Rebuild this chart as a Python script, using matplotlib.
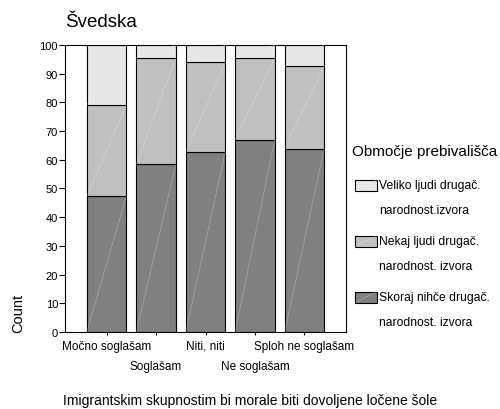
import numpy as np
import matplotlib
matplotlib.use('Agg')
import matplotlib.pyplot as plt
from matplotlib.patches import Rectangle

plt.rcParams['font.family'] = ['Liberation Sans', 'DejaVu Sans']

categories = ['Močno soglašam', 'Soglašam', 'Niti, niti', 'Ne soglašam', 'Sploh ne soglašam']
series_names = ['Skoraj nihče drugač.\nnarodnost. izvora',
                'Nekaj ljudi drugač.\nnarodnost. izvora',
                'Veliko ljudi drugač.\nnarodnost.izvora']
# percent per category, stacked bottom -> top
skoraj = [47.3, 58.4, 62.7, 67.0, 63.9]
nekaj = [31.8, 37.0, 31.2, 28.4, 28.8]
veliko = [20.9, 4.6, 6.1, 4.6, 7.3]
colors = ['#808080', '#c0c0c0', '#e6e6e6']

fig = plt.figure(figsize=(5, 4.1), dpi=100)
ax = fig.add_axes([0.13, 0.188, 0.562, 0.7])

x = np.arange(len(categories))
w = 0.8
bottom = np.zeros(len(categories))
for vals, col in zip([skoraj, nekaj, veliko], colors):
    vals = np.array(vals)
    ax.bar(x, vals, w, bottom=bottom, color=col, edgecolor='black', linewidth=0.8, zorder=2)
    # faint diagonal seen on each segment
    for xi, b, h in zip(x, bottom, vals):
        ax.plot([xi - w / 2, xi + w / 2], [b, b + h], color='white', alpha=0.25, lw=0.6, zorder=3)
    bottom += vals

ax.set_xlim(-0.84, len(categories) - 1 + 0.84)
ax.set_ylim(0, 100)
ax.set_yticks(np.arange(0, 101, 10))
ax.tick_params(axis='y', labelsize=8, length=4, width=0.8, pad=1)
ax.tick_params(axis='x', labelsize=8.5, length=2.5, width=0.8, pad=3)
ax.set_xticks(x)
ax.set_xticklabels(categories)
for i, t in enumerate(ax.xaxis.get_major_ticks()):
    if i % 2 == 1:
        t.set_pad(17.5)
for s in ax.spines.values():
    s.set_linewidth(0.8)

fig.text(0.13, 0.946, 'Švedska', fontsize=13.5, ha='left', va='center')
fig.text(0.036, 0.188, 'Count', fontsize=10.5, rotation=90, ha='center', va='bottom')
fig.text(0.5, 0.022, 'Imigrantskim skupnostim bi morale biti dovoljene ločene šole',
         fontsize=10, ha='center', va='center')

# legend, drawn by hand to get the wide line spacing
W, H = 500.0, 410.0
fig.text(352 / W, 1 - 152 / H, 'Območje prebivališča', fontsize=11, ha='left', va='center')
for k, (name, col) in enumerate(zip(series_names[::-1], colors[::-1])):
    yc = 186 + 56 * k
    r = Rectangle((355 / W, 1 - (yc + 5.5) / H), 22 / W, 11 / H, transform=fig.transFigure,
                  facecolor=col, edgecolor='black', linewidth=0.8)
    fig.add_artist(r)
    fig.add_artist(plt.Line2D([355 / W, 377 / W], [1 - (yc + 5.5) / H, 1 - (yc - 5.5) / H],
                              transform=fig.transFigure, color='white', alpha=0.25, lw=0.6))
    l1, l2 = name.split('\n')
    fig.text(379 / W, 1 - yc / H, l1, fontsize=8.7, ha='left', va='center')
    fig.text(379 / W, 1 - (yc + 25.5) / H, l2, fontsize=8.7, ha='left', va='center')

fig.savefig('out.png', dpi=100)
